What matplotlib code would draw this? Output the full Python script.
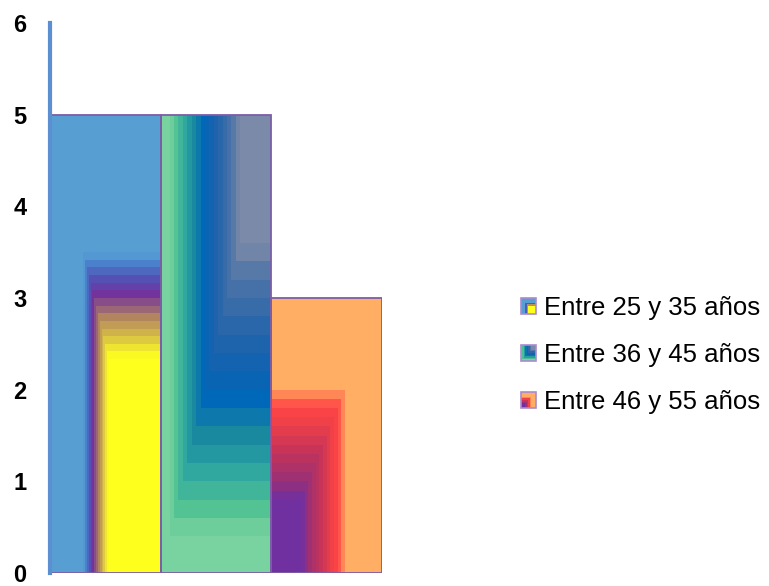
import matplotlib
matplotlib.use("Agg")
import matplotlib.pyplot as plt
from matplotlib.patches import Rectangle
from matplotlib.colors import LinearSegmentedColormap
from matplotlib.legend_handler import HandlerBase

series = ["Entre 25 y 35 años", "Entre 36 y 45 años", "Entre 46 y 55 años"]
values = [5, 5, 3]
y_ticks = [0, 1, 2, 3, 4, 5, 6]

# rectangular gradient fills: corner the gradient grows from, number of bands, colour stops
fills = [
    ("br", 60, [(0.0, "#FFFF1E"), (0.47, "#FFFF1E"), (0.50, "#E6D83A"), (0.56, "#B08060"),
                (0.61, "#7030A0"), (0.65, "#5058B8"), (0.68, "#4A8AD0"), (0.70, "#579ED3"),
                (1.0, "#579ED3")]),
    ("tr", 25, [(0.0, "#7A8AA8"), (0.28, "#7A8AA8"), (0.36, "#4C74A8"), (0.46, "#2A66AA"),
                (0.56, "#0E62B2"), (0.62, "#0068B8"), (0.70, "#1888A0"), (0.78, "#30A8A0"),
                (0.86, "#52C293"), (0.92, "#78D3A0"), (1.0, "#78D3A0")]),
    ("bl", 30, [(0.0, "#7030A0"), (0.27, "#7030A0"), (0.35, "#A03070"), (0.45, "#C83458"),
                (0.55, "#F04048"), (0.60, "#FF4545"), (0.64, "#FF7050"), (0.67, "#FFAE64"),
                (1.0, "#FFAE64")]),
]
cmaps = [LinearSegmentedColormap.from_list("g%d" % i, f[2]) for i, f in enumerate(fills)]
EDGE = "#7B5EA7"


def gradient_patches(x0, y0, w, h, corner, cmap, n):
    # nested rectangles anchored at one corner -> stepped rectangular gradient
    patches = []
    for k in range(n, 0, -1):
        t = k / n
        rw, rh = w * t, h * t
        rx = x0 if corner[1] == "l" else x0 + w - rw
        ry = y0 if corner[0] == "b" else y0 + h - rh
        patches.append(Rectangle((rx, ry), rw, rh, facecolor=cmap((k - 0.5) / n),
                                 linewidth=0, antialiased=False))
    return patches


class GradientHandler(HandlerBase):
    def __init__(self, corner, cmap):
        super().__init__()
        self.corner = corner
        self.cmap = cmap

    def legend_artist(self, legend, orig_handle, fontsize, handlebox):
        x0, y0 = -handlebox.xdescent, -handlebox.ydescent
        w, h = handlebox.width, handlebox.height
        for p in gradient_patches(x0, y0, w, h, self.corner, self.cmap, 10):
            p.set_transform(handlebox.get_transform())
            handlebox.add_artist(p)
        border = Rectangle((x0, y0), w, h, facecolor="none", edgecolor="#A98BD0",
                           linewidth=1.2, transform=handlebox.get_transform())
        handlebox.add_artist(border)
        return border


fig = plt.figure(figsize=(7.69, 5.86), dpi=100)
ax = fig.add_axes([50 / 769, 13 / 586, 332 / 769, 550 / 586])

xs = list(range(len(values)))
bars = ax.bar(xs, values, width=1.0, color="none", edgecolor=EDGE, linewidth=1.3, zorder=3)
for bar, (corner, n, _), cmap in zip(bars, fills, cmaps):
    for p in gradient_patches(bar.get_x(), bar.get_y(), bar.get_width(), bar.get_height(),
                              corner, cmap, n):
        p.set_zorder(2)
        ax.add_patch(p)

ax.set_xlim(-0.5, len(values) - 0.5)
ax.set_ylim(0, 6)
ax.set_yticks(y_ticks)
ax.set_yticklabels([str(v) for v in y_ticks], fontfamily="Liberation Sans",
                   fontweight="bold", fontsize=17)
ax.set_xticks([])
ax.tick_params(axis="y", length=0, pad=17)
for side in ("top", "right", "bottom"):
    ax.spines[side].set_visible(False)
ax.spines["left"].set_color("#5B8FD0")
ax.spines["left"].set_linewidth(3)
ax.spines["left"].set_zorder(4)

proxies = [Rectangle((0, 0), 1, 1) for _ in series]
handler_map = {p: GradientHandler(f[0], cm) for p, f, cm in zip(proxies, fills, cmaps)}
fig.legend(proxies, series, handler_map=handler_map, loc="center left",
           bbox_to_anchor=(521 / 769, 1 - 355 / 586), frameon=False,
           prop={"family": "Liberation Sans", "size": 18.5},
           handlelength=0.58, handleheight=0.58, handletextpad=0.33,
           labelspacing=0.9, borderpad=0, borderaxespad=0)

fig.savefig("out.png", dpi=100)
